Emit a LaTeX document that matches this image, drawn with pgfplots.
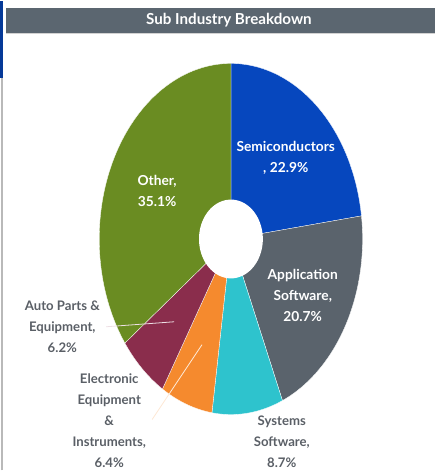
\documentclass[border=0pt]{standalone}
\usepackage{pgfplots}
\pgfplotsset{compat=1.18}
\usepackage{fontspec}
\setmainfont{Lato}

\definecolor{cSemi}{HTML}{0647BE}
\definecolor{cApp}{HTML}{5A636C}
\definecolor{cSys}{HTML}{2EC3CD}
\definecolor{cElec}{HTML}{F58A2E}
\definecolor{cAuto}{HTML}{8A2D4C}
\definecolor{cOther}{HTML}{6A8C22}
\definecolor{barGray}{HTML}{5B6670}
\definecolor{lblGray}{HTML}{5A5F66}

\begin{document}
\begin{tikzpicture}
\begin{axis}[scale only axis,
  width=437pt, height=471pt,
  xmin=0, xmax=437, ymin=0, ymax=471,
  hide axis, clip=false]
  % frame bits
  \draw[gray!55, line width=1.2pt] (2.5,0) -- (2.5,471);
  \fill[cSemi!80!black] (0.5,393) rectangle (4,471);
  \fill[barGray] (7,439) rectangle (437,464);
  \draw[gray!35, line width=0.8pt] (7,438.6) -- (437,438.6);
  \node[white, font=\bfseries\fontsize{15.2}{17}\selectfont] at (230,451.5) {Sub Industry Breakdown};

  % shares in percent, clockwise from 12 o'clock; centre (232,232), radii 132 x 176
  \xdef\cur{90}
  \foreach \p/\c in {22.9/cSemi,20.7/cApp,8.7/cSys,6.4/cElec,6.2/cAuto,35.1/cOther}{
    \pgfmathsetmacro\en{\cur-3.6*\p}
    \edef\temp{\noexpand\addplot[fill=\c, draw=white, line width=0.3pt,
      domain=\en:\cur, samples=90] ({232+132*cos(x)},{232+176*sin(x)}) -- (232,232) -- cycle;}
    \temp
    \xdef\cur{\en}
  }
  \addplot[fill=white, draw=none, domain=0:360, samples=90]
    ({232+32*cos(x)},{232+39.5*sin(x)}) -- cycle;

  % leader lines
  \draw[cAuto!15!white, line width=0.8pt] (107,144) -- (175,149);
  \draw[cElec!20!white, line width=0.8pt] (153,51) -- (203,126);

  % labels
  \tikzset{lbl/.style={align=center, font=\bfseries\fontsize{13.8}{21}\selectfont},
           glbl/.style={align=center, lblGray, font=\bfseries\fontsize{13.2}{21}\selectfont}}
  \node[lbl, white] at (287,313.5) {Semiconductors\\, 22.9\%};
  \node[lbl, white] at (304,175) {Application\\Software,\\20.7\%};
  \node[lbl, white] at (158,280) {Other,\\35.1\%};
  \node[glbl] at (283,29) {Systems\\Software,\\8.7\%};
  \node[glbl] at (63,144) {Auto Parts \&\\Equipment,\\6.2\%};
  \node[glbl] at (110,50) {Electronic\\Equipment\\\&\\Instruments,\\6.4\%};
\end{axis}
\end{tikzpicture}
\end{document}
